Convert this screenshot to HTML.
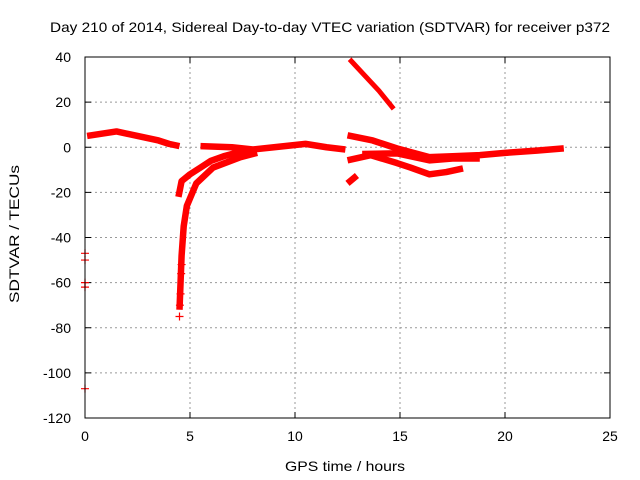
<!DOCTYPE html>
<html><head><meta charset="utf-8"><style>
body{margin:0;background:#fff}
svg{display:block;font-family:"Liberation Sans",sans-serif}
</style></head><body>
<svg id="chart" width="640" height="480">
<text x="50" y="32" font-size="14" textLength="560" lengthAdjust="spacingAndGlyphs">Day 210 of 2014, Sidereal Day-to-day VTEC variation (SDTVAR) for receiver p372</text>
<text x="285" y="471" font-size="14" textLength="120" lengthAdjust="spacingAndGlyphs">GPS time / hours</text>
<text transform="translate(19,234) rotate(-90)" text-anchor="middle" font-size="14" textLength="138" lengthAdjust="spacingAndGlyphs">SDTVAR / TECUs</text>
<g id="grid"></g><g id="series"></g>
<rect x="85" y="57" width="525" height="361" fill="none" stroke="#000"/>
</svg>
<script>
const xTicks=[0,5,10,15,20,25];
const yTicks=[40,20,0,-20,-40,-60,-80,-100,-120];
const seg1=[[0.1,5],[0.8,6],[1.5,7],[2.5,5],[3.5,3],[4,1.5],[4.5,0.5]];
const seg2=[[5.5,0.5],[7,0],[8,-1],[9,0],[10,1],[10.5,1.5],[11.5,0],[12.4,-1]];
const seg3=[[4.45,-22],[4.6,-15],[5,-12],[5.5,-9],[6,-6],[6.6,-4],[7.2,-2.5],[8,-1.5]];
const seg4=[[4.5,-72],[4.55,-60],[4.6,-48],[4.7,-35],[4.85,-26],[5.3,-16],[6.1,-9],[7.4,-4.4],[8.2,-2.5]];
const seg5=[[12.6,39],[13.3,32],[14,25],[14.7,17]];
const seg6=[[12.5,-16],[12.95,-12.5]];
const seg7=[[12.5,5.3],[13.7,3],[14.85,-0.5],[16.4,-4.4],[17.5,-4],[18.8,-3.5],[20,-2.5],[21.5,-1.5],[22.8,-0.5]];
const seg8=[[12.5,-5.8],[13.6,-3.5],[14.85,-7],[15.5,-9],[16.4,-12],[17.2,-11],[18,-9.4]];
const seg9=[[13.2,-3],[14.85,-2.7],[16.4,-5.8],[17.5,-5],[18.8,-5]];
const outliers=[[0,-47],[0,-50],[0,-60],[0,-62],[0,-107]];
const spikePts=[[4.5,-75],[4.52,-70],[4.55,-65],[4.58,-56],[4.6,-52]];
const X=h=>85+h*21, Y=v=>147.25-v*(361/160);
const NS="http://www.w3.org/2000/svg";
const g=document.getElementById('grid'), s=document.getElementById('series');
function el(p,t,a){const e=document.createElementNS(NS,t);for(const k in a)e.setAttribute(k,a[k]);p.appendChild(e);return e;}
xTicks.forEach(t=>{
 if(t>0&&t<25){const l=el(g,'line',{x1:X(t),x2:X(t),y1:57,y2:418,stroke:'#999','stroke-dasharray':'2,3'});
 
 }
 const tx=el(g,'text',{x:X(t),y:441,'text-anchor':'middle','font-size':14});tx.textContent=t;
 
 
 el(g,'line',{x1:X(t),x2:X(t),y1:418,y2:412,stroke:'#000'});el(g,'line',{x1:X(t),x2:X(t),y1:57,y2:63,stroke:'#000'});
});
yTicks.forEach(t=>{
 if(t<40&&t>-120){const l=el(g,'line',{x1:85,x2:610,y1:Y(t),y2:Y(t),stroke:'#999','stroke-dasharray':'2,3'});
 
 }
 const tx=el(g,'text',{x:71,y:Y(t)+5,'text-anchor':'end','font-size':14});tx.textContent=t;
 
 
 el(g,'line',{x1:85,x2:91,y1:Y(t),y2:Y(t),stroke:'#000'});el(g,'line',{x1:610,x2:604,y1:Y(t),y2:Y(t),stroke:'#000'});
});
[seg1,seg2,seg3,seg4,seg5,seg6,seg7,seg8,seg9].forEach((sg,i)=>{
 const p=el(s,'polyline',{points:sg.map(d=>X(d[0])+','+Y(d[1])).join(' '),fill:'none',stroke:'#f00','stroke-width':i==4?5:6.5,'stroke-linejoin':'round','stroke-linecap':'butt'});
 
 
});
outliers.concat(spikePts).forEach(d=>{
 const p=el(s,'path',{d:`M${X(d[0])-4},${Y(d[1])}h8M${X(d[0])},${Y(d[1])-4}v8`,stroke:'#f00','stroke-width':1.2});
 
 
});
</script>
</body></html>
